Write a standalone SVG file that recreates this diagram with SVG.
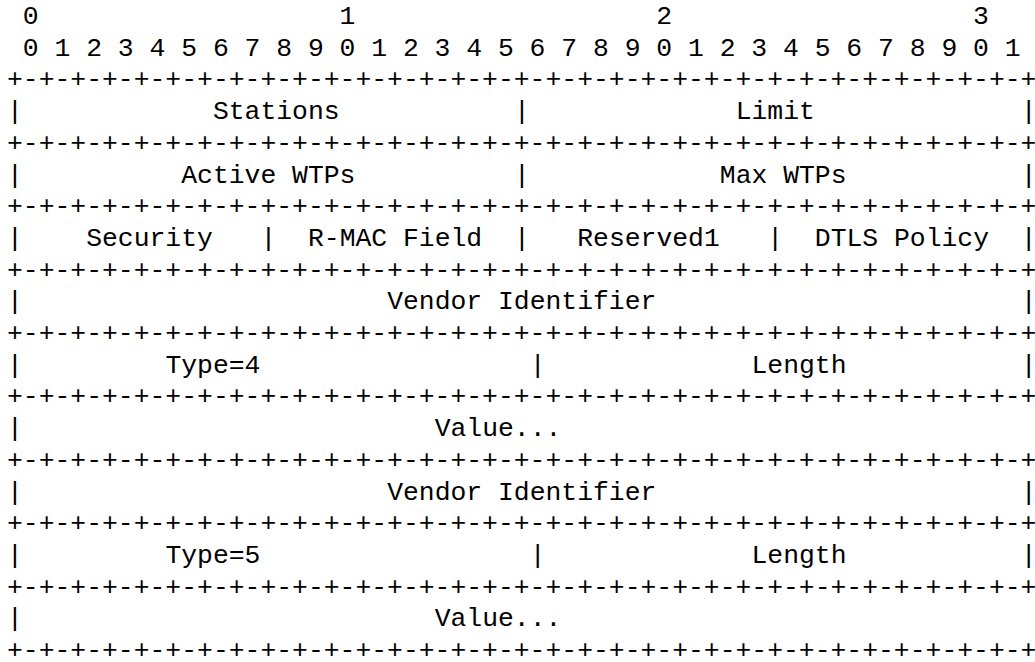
<svg xmlns="http://www.w3.org/2000/svg" width="1035" height="662" viewBox="0 0 1035 662" xml:space="preserve">
<style>
.t{font-family:"Liberation Mono","Courier New",monospace;font-size:26.4px;fill:#000;white-space:pre}
</style>
<defs>
<text id="border" class="t">+-+-+-+-+-+-+-+-+-+-+-+-+-+-+-+-+-+-+-+-+-+-+-+-+-+-+-+-+-+-+-+-+</text>
<text id="bar" class="t">|</text>
</defs>
<rect width="1035" height="662" fill="#fff"/>
<g id="ruler">
<text class="t" x="7" y="24"> 0                   1                   2                   3</text>
<text class="t" x="7" y="55.7"> 0 1 2 3 4 5 6 7 8 9 0 1 2 3 4 5 6 7 8 9 0 1 2 3 4 5 6 7 8 9 0 1</text>
</g>
<g id="connectors">
<use href="#border" x="7" y="87.4"/>
<use href="#border" x="7" y="150.8"/>
<use href="#border" x="7" y="214.2"/>
<use href="#border" x="7" y="277.6"/>
<use href="#border" x="7" y="341"/>
<use href="#border" x="7" y="404.4"/>
<use href="#border" x="7" y="467.8"/>
<use href="#border" x="7" y="531.2"/>
<use href="#border" x="7" y="594.6"/>
<use href="#border" x="7" y="658"/>
<use href="#bar" x="7" y="119.1"/><use href="#bar" x="513.88" y="119.1"/><use href="#bar" x="1020.76" y="119.1"/>
<use href="#bar" x="7" y="182.5"/><use href="#bar" x="513.88" y="182.5"/><use href="#bar" x="1020.76" y="182.5"/>
<use href="#bar" x="7" y="245.9"/><use href="#bar" x="260.44" y="245.9"/><use href="#bar" x="513.88" y="245.9"/><use href="#bar" x="767.32" y="245.9"/><use href="#bar" x="1020.76" y="245.9"/>
<use href="#bar" x="7" y="309.3"/><use href="#bar" x="1020.76" y="309.3"/>
<use href="#bar" x="7" y="372.7"/><use href="#bar" x="529.72" y="372.7"/><use href="#bar" x="1020.76" y="372.7"/>
<use href="#bar" x="7" y="436.1"/>
<use href="#bar" x="7" y="499.5"/><use href="#bar" x="1020.76" y="499.5"/>
<use href="#bar" x="7" y="562.9"/><use href="#bar" x="529.72" y="562.9"/><use href="#bar" x="1020.76" y="562.9"/>
<use href="#bar" x="7" y="626.3"/>
</g>
<g id="stations"><text class="t" x="212.92" y="119.1">Stations</text></g>
<g id="limit"><text class="t" x="735.64" y="119.1">Limit</text></g>
<g id="active-wtps"><text class="t" x="181.24" y="182.5">Active WTPs</text></g>
<g id="max-wtps"><text class="t" x="719.8" y="182.5">Max WTPs</text></g>
<g id="security"><text class="t" x="86.2" y="245.9">Security</text></g>
<g id="rmac-field"><text class="t" x="307.96" y="245.9">R-MAC Field</text></g>
<g id="reserved1"><text class="t" x="577.24" y="245.9">Reserved1</text></g>
<g id="dtls-policy"><text class="t" x="814.84" y="245.9">DTLS Policy</text></g>
<g id="vendor-id-1"><text class="t" x="387.16" y="309.3">Vendor Identifier</text></g>
<g id="type-4"><text class="t" x="165.4" y="372.7">Type=4</text></g>
<g id="length-1"><text class="t" x="751.48" y="372.7">Length</text></g>
<g id="value-1"><text class="t" x="434.68" y="436.1">Value...</text></g>
<g id="vendor-id-2"><text class="t" x="387.16" y="499.5">Vendor Identifier</text></g>
<g id="type-5"><text class="t" x="165.4" y="562.9">Type=5</text></g>
<g id="length-2"><text class="t" x="751.48" y="562.9">Length</text></g>
<g id="value-2"><text class="t" x="434.68" y="626.3">Value...</text></g>
</svg>
